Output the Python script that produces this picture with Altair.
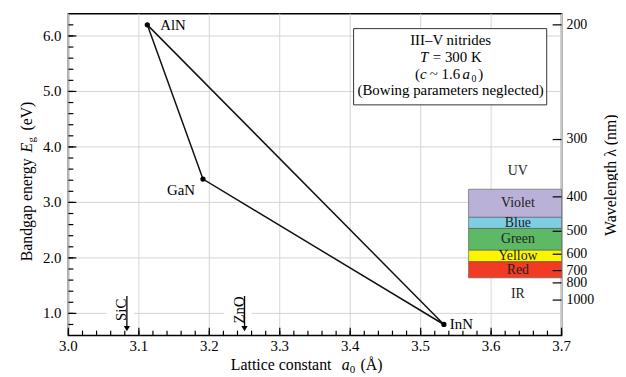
import altair as alt
import pandas as pd
import numpy as np

# ---------------- data ----------------
compounds = ["AlN", "GaN", "InN"]
lattice_a = [3.112, 3.191, 3.533]          # Å
bandgap = [6.20, 3.42, 0.80]               # eV
path_order = ["AlN", "GaN", "InN", "AlN"]   # triangle connecting the binaries

substrates = ["SiC", "ZnO"]
substrate_a = [3.083, 3.250]

band_names = ["Violet", "Blue", "Green", "Yellow", "Red"]
band_nm_short = [383, 454, 490, 580, 642]
band_nm_long = [454, 490, 580, 642, 756]
band_colors = ["#b9b1d8", "#7fcde2", "#5db966", "#fbf600", "#f23b23"]

region_names = ["UV", "IR"]
region_nm = [348, 925]

wavelength_ticks = [200, 300, 400, 500, 600, 700, 800, 1000]

x_major = [3.0, 3.1, 3.2, 3.3, 3.4, 3.5, 3.6, 3.7]
y_major = [1.0, 2.0, 3.0, 4.0, 5.0, 6.0]
x_minor = [round(v, 2) for v in np.arange(3.0, 3.7001, 0.02)]
y_minor = [round(v, 1) for v in np.arange(0.8, 6.2001, 0.2)]

# ---------------- layout / style ----------------
FONT = "Liberation Serif"
W, H = 498, 325
X0, Y0 = 69, 12          # picture position of the plot origin (for annotations)
BAND_A = (3.568, 3.7)
LABEL_A = 3.638

xs = alt.Scale(domain=[3.0, 3.7], nice=False, zero=False)
ys = alt.Scale(domain=[0.6, 6.4], nice=False, zero=False)

one = pd.DataFrame({"k": [0]})

def note(text, x, y, size=15, style="normal", angle=0, align="left", baseline="alphabetic"):
    return alt.Chart(one).mark_text(
        text=text, font=FONT, fontSize=size, fontStyle=style, angle=angle,
        align=align, baseline=baseline, color="black"
    ).encode(x=alt.value(x - X0), y=alt.value(y - Y0))

# ----- grid, ticks and tick labels -----
xmaj = pd.DataFrame({"gx": x_major})
ymaj = pd.DataFrame({"gy": y_major})

grid_x = alt.Chart(xmaj).mark_rule(color="#d4d4d4", strokeWidth=1).encode(
    x=alt.X("gx:Q", scale=xs, axis=None), y=alt.value(0), y2=alt.value(H))
grid_y = alt.Chart(ymaj).mark_rule(color="#d4d4d4", strokeWidth=1).encode(
    y=alt.Y("gy:Q", scale=ys, axis=None), x=alt.value(0), x2=alt.value(W))

xlab = alt.Chart(xmaj).transform_calculate(lab="format(datum.gx, '.1f')").mark_text(
    font=FONT, fontSize=15, baseline="middle", color="black").encode(
    x=alt.X("gx:Q", scale=xs, axis=None), y=alt.value(H + 11), text="lab:N")
ylab = alt.Chart(ymaj).transform_calculate(lab="format(datum.gy, '.1f')").mark_text(
    font=FONT, fontSize=15, align="right", baseline="middle", color="black").encode(
    y=alt.Y("gy:Q", scale=ys, axis=None), x=alt.value(-7), text="lab:N")

def ticks_x(vals, length):
    return alt.Chart(pd.DataFrame({"v": vals})).mark_rule(color="black", strokeWidth=1.2).encode(
        x=alt.X("v:Q", scale=xs, axis=None), y=alt.value(H), y2=alt.value(H - length))

def ticks_y(vals, length):
    return alt.Chart(pd.DataFrame({"v": vals})).mark_rule(color="black", strokeWidth=1.2).encode(
        y=alt.Y("v:Q", scale=ys, axis=None), x=alt.value(0), x2=alt.value(length))

# ----- compounds -----
pts = pd.DataFrame({"name": compounds, "a": lattice_a, "eg": bandgap})
path = pd.DataFrame({"name": path_order, "step": list(range(len(path_order)))})
path = path.merge(pts, on="name").sort_values("step")

lines = alt.Chart(path).mark_line(color="#111", strokeWidth=1.5).encode(
    x=alt.X("a:Q", scale=xs, axis=alt.Axis(values=x_major, grid=False, labels=False,
                                           title=None)),
    y=alt.Y("eg:Q", scale=ys, axis=alt.Axis(values=y_major, grid=False, labels=False,
                                            title=None)),
    order="step:Q",
)
points = alt.Chart(pts).mark_circle(size=28, color="black", opacity=1).encode(
    x=alt.X("a:Q", scale=xs, axis=None), y=alt.Y("eg:Q", scale=ys, axis=None))

def point_label(name, align, dx, dy):
    return alt.Chart(pts).transform_filter(alt.datum.name == name).mark_text(
        font=FONT, fontSize=15, align=align, baseline="middle", dx=dx, dy=dy, color="black"
    ).encode(x=alt.X("a:Q", scale=xs, axis=None), y=alt.Y("eg:Q", scale=ys, axis=None),
             text="name:N")

# ----- info box -----
box = alt.Chart(one).mark_rect(fill="white", stroke="#333", strokeWidth=1).encode(
    x=alt.value(357 - X0), x2=alt.value(552 - X0), y=alt.value(27 - Y0), y2=alt.value(104 - Y0)
)

# ----- colour bands -----
bands = pd.DataFrame({"band": band_names, "nm_lo": band_nm_short,
                      "nm_hi": band_nm_long, "color": band_colors})
band_base = alt.Chart(bands).transform_calculate(
    e_hi="1240/datum.nm_lo", e_lo="1240/datum.nm_hi",
    a0=str(BAND_A[0]), a1=str(BAND_A[1]), am=str(LABEL_A),
    e_mid="(1240/datum.nm_lo + 1240/datum.nm_hi)/2",
)
band_rects = band_base.mark_rect(stroke="#555", strokeWidth=0.6).encode(
    x=alt.X("a0:Q", scale=xs, axis=None), x2="a1:Q",
    y=alt.Y("e_lo:Q", scale=ys, axis=None), y2="e_hi:Q",
    color=alt.Color("color:N", scale=None),
)
band_text = band_base.mark_text(font=FONT, fontSize=14, color="#222", baseline="middle").encode(
    x=alt.X("am:Q", scale=xs, axis=None), y=alt.Y("e_mid:Q", scale=ys, axis=None), text="band:N"
)

regions = pd.DataFrame({"name": region_names, "nm": region_nm})
region_text = alt.Chart(regions).transform_calculate(
    e="1240/datum.nm", am=str(LABEL_A)
).mark_text(font=FONT, fontSize=14, color="#222", baseline="middle").encode(
    x=alt.X("am:Q", scale=xs, axis=None), y=alt.Y("e:Q", scale=ys, axis=None), text="name:N"
)

# ----- substrate arrows -----
subs = pd.DataFrame({"name": substrates, "a": substrate_a})
mask = alt.Chart(subs).transform_calculate(
    lo="datum.a - 0.029", hi="datum.a + 0.010"
).mark_rule(color="white", strokeWidth=5).encode(
    x=alt.X("lo:Q", scale=xs, axis=None), x2="hi:Q", y=alt.datum(1.0, scale=ys)
)
shaft = alt.Chart(subs).mark_rule(color="black", strokeWidth=1.3).encode(
    x=alt.X("a:Q", scale=xs, axis=None), y=alt.value(297 - Y0), y2=alt.value(329 - Y0)
)
head = alt.Chart(subs).mark_point(shape="triangle-down", filled=True, size=40,
                                  color="black", opacity=1).encode(
    x=alt.X("a:Q", scale=xs, axis=None), y=alt.value(330 - Y0)
)
sub_text = alt.Chart(subs).mark_text(font=FONT, fontSize=15, angle=270, align="center",
                                     baseline="middle", dy=-6, color="black").encode(
    x=alt.X("a:Q", scale=xs, axis=None), y=alt.value(311 - Y0), text="name:N"
)

# ----- wavelength scale on the right -----
wl = pd.DataFrame({"nm": wavelength_ticks})
wl_base = alt.Chart(wl).transform_calculate(e="1240/datum.nm")
wl_ticks = wl_base.mark_rule(color="black", strokeWidth=1.2).encode(
    y=alt.Y("e:Q", scale=ys, axis=None), x=alt.value(W), x2=alt.value(W - 9))
wl_text = wl_base.mark_text(font=FONT, fontSize=14, align="left", baseline="middle",
                            dx=5, color="black").encode(
    y=alt.Y("e:Q", scale=ys, axis=None), x=alt.value(W), text="nm:Q")

texts = [
    # info box
    note("III\u2013V  nitrides", 455, 44, align="center"),
    note("T", 424, 61, style="italic"),
    note("= 300 K", 437, 61),
    note("(", 419, 78),
    note("c", 424, 78, style="italic"),
    note("~ 1.6", 434, 78),
    note("a", 467, 78, style="italic"),
    note("0", 476, 81, size=10),
    note(")", 483, 78),
    note("(Bowing parameters neglected)", 455, 94, align="center"),
    # x title
    note("Lattice  constant", 233, 372, size=16),
    note("a", 345, 372, size=16, style="italic"),
    note("0", 353, 375, size=11),
    note("(\u00c5)", 364, 372, size=16),
    # y title (rotated)
    note("Bandgap  energy", 32, 262, size=16, angle=270),
    note("E", 32, 152, size=16, style="italic", angle=270),
    note("g", 35, 142, size=11, angle=270),
    note("(eV)", 32, 130, size=16, angle=270),
    # right title
    note("Wavelength  \u03bb  (nm)", 617, 175, size=16, angle=270, align="center",
         baseline="middle"),
]

chart = alt.layer(
    grid_x, grid_y,
    lines, box, band_rects, band_text, region_text, mask,
    ticks_x(x_minor, 5), ticks_x(x_major, 8), ticks_y(y_minor, 5), ticks_y(y_major, 8),
    xlab, ylab,
    wl_ticks, wl_text, shaft, head, sub_text,
    points,
    point_label("AlN", "left", 13, 0),
    point_label("GaN", "right", -8, 11),
    point_label("InN", "left", 6, 0),
    *texts,
).properties(
    width=W, height=H,
    padding={"left": 61, "top": 4, "right": 57, "bottom": 40},
    autosize=alt.AutoSizeParams(type="none"),
).configure_view(
    stroke="black", strokeWidth=1.5
).configure_axis(
    domain=False, ticks=False, tickSize=0, labels=False, grid=False,
)

chart.save("out.html", embed_options={"renderer": "svg", "actions": False})
